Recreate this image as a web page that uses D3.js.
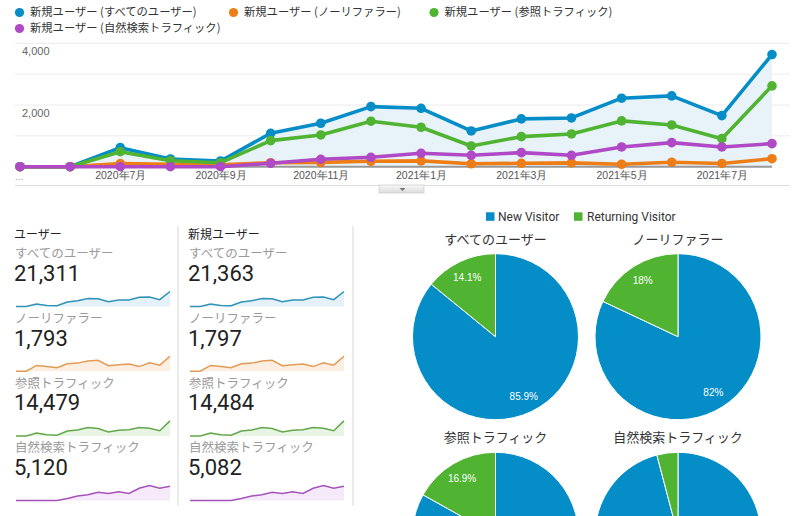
<!DOCTYPE html>
<html><head><meta charset="utf-8">
<script src="https://cdn.jsdelivr.net/npm/d3@7"></script>
<style>
body{margin:0;background:#fff;}
svg{display:block;font-family:"Noto Sans CJK JP","Noto Sans",sans-serif;}
</style>
</head><body><svg id="c" width="800" height="516"></svg>
<script>
// ---------- data ----------
const months = ["2020-05","2020-06","2020-07","2020-08","2020-09","2020-10","2020-11","2020-12",
                "2021-01","2021-02","2021-03","2021-04","2021-05","2021-06","2021-07","2021-08"];
const tickMonths = ["2020-07","2020-09","2020-11","2021-01","2021-03","2021-05","2021-07"];
const tickLabels = ["2020年7月","2020年9月","2020年11月","2021年1月","2021年3月","2021年5月","2021年7月"];
const yTicks = [2000, 4000];

const segmentNames = ["すべてのユーザー","ノーリファラー","参照トラフィック","自然検索トラフィック"];
const legendNames = ["新規ユーザー (すべてのユーザー)","新規ユーザー (ノーリファラー)","新規ユーザー (参照トラフィック)","新規ユーザー (自然検索トラフィック)"];

const newAll      = [0,0,617,250,185,1083,1409,1948,1894,1159,1549,1581,2221,2295,1656,3636];
const newNoRef    = [0,0,100,80,60,130,140,175,190,95,110,125,80,145,105,260];
const newReferral = [0,0,487,195,130,844,1029,1474,1279,672,974,1062,1484,1354,909,2620];
const newOrganic  = [0,0,0,0,0,110,240,305,435,370,455,370,640,780,640,747];

const usersTotals    = [21311, 1793, 14479, 5120];
const newUsersTotals = [21363, 1797, 14484, 5082];

const pieNew       = [85.9, 82, 83.1, 95.9];
const pieReturning = [14.1, 18, 16.9, 4.1];
const pieLegend = ["New Visitor","Returning Visitor"];

// ---------- styles ----------
const colors = ["#058dc7","#ed7e17","#50b432","#af49c5"];
const sparkLine = ["#2f92b8","#e39a55","#62a84a","#a652bd"];
const sparkFill = ["#e4f1f8","#fcefe2","#e9f5e4","#f6e9f9"];
const series = [newAll, newNoRef, newReferral, newOrganic];

const svg = d3.select("#c");

// ---------- legend ----------
const legPos = [[19.5,12.5],[233.5,12.5],[434,12.5],[19.5,28.5]];
legendNames.forEach((n,i)=>{
  const g = svg.append("g").attr("transform",`translate(${legPos[i][0]},${legPos[i][1]})`);
  g.append("circle").attr("r",4.6).attr("fill",colors[i]);
  g.append("text").attr("x",10.5).attr("y",0).attr("dy","0.35em")
    .attr("font-size",11.3).attr("fill","#333").text(n);
});

// ---------- main chart ----------
const x = d3.scalePoint().domain(months).range([20, 772]);
const y = d3.scaleLinear().domain([0,4000]).range([166.7, 43.3]);

// gridlines
svg.append("g").selectAll("line").data([1000,2000,3000,4000]).join("line")
  .attr("x1",15).attr("x2",790).attr("y1",d=>y(d)).attr("y2",d=>y(d))
  .attr("stroke","#ececec").attr("stroke-width",1);

// y axis labels
const yAx = svg.append("g").attr("transform","translate(22,0)")
  .call(d3.axisRight(y).tickValues(yTicks).tickSize(0).tickPadding(0).tickFormat(d3.format(",")));
yAx.select(".domain").remove();
yAx.selectAll("text").attr("font-size",11).attr("fill","#666").attr("dy","1.05em")
  .attr("font-family","Arial, 'Liberation Sans', sans-serif");

// area under blue
svg.append("path").datum(newAll)
  .attr("d", d3.area().x((d,i)=>x(months[i])).y0(y(0)).y1(d=>y(d)))
  .attr("fill","#e7f2f9");

// baseline
svg.append("line").attr("x1",20).attr("x2",772).attr("y1",y(0)).attr("y2",y(0))
  .attr("stroke","#999").attr("stroke-width",2);

// x axis
const xAx = svg.append("g").attr("transform",`translate(0,${y(0)})`)
  .call(d3.axisBottom(x).tickValues(tickMonths).tickSize(0).tickPadding(5)
    .tickFormat(d=>tickLabels[tickMonths.indexOf(d)]));
xAx.select(".domain").remove();
xAx.selectAll("text").attr("font-size",10.5).attr("fill","#555");

svg.append("text").attr("x",15).attr("y",180).attr("font-size",10).attr("fill","#aaa").text("...");

// lines and dots
series.forEach((s,k)=>{
  svg.append("path").datum(s)
    .attr("d", d3.line().x((d,i)=>x(months[i])).y(d=>y(d)))
    .attr("fill","none").attr("stroke",colors[k]).attr("stroke-width",3.6)
    .attr("stroke-linejoin","round");
  svg.append("g").selectAll("circle").data(s).join("circle")
    .attr("cx",(d,i)=>x(months[i])).attr("cy",d=>y(d)).attr("r",4.8).attr("fill",colors[k]);
});

// bottom separator + tab
svg.append("line").attr("x1",15).attr("x2",790).attr("y1",185.5).attr("y2",185.5)
  .attr("stroke","#ddd").attr("stroke-width",1);
const grad = svg.append("defs").append("linearGradient").attr("id","tab").attr("x1",0).attr("x2",0).attr("y1",0).attr("y2",1);
grad.append("stop").attr("offset",0).attr("stop-color","#f7f7f7");
grad.append("stop").attr("offset",1).attr("stop-color","#dcdcdc");
svg.append("rect").attr("x",379).attr("y",185).attr("width",45).attr("height",8)
  .attr("fill","url(#tab)").attr("stroke","#cfcfcf").attr("stroke-width",0.8);
svg.append("path").attr("d","M399.5,188 L405.5,188 L402.5,191 Z").attr("fill","#777");

// ---------- scorecards ----------
svg.append("g").selectAll("line").data([178,353]).join("line")
  .attr("x1",d=>d).attr("x2",d=>d).attr("y1",226).attr("y2",506)
  .attr("stroke","#dedede").attr("stroke-width",1.2);

const columns = [{x0:14, title:"ユーザー", totals:usersTotals},
                 {x0:188, title:"新規ユーザー", totals:newUsersTotals}];
const sx = d3.scaleLinear().domain([0, months.length-1]);
columns.forEach(col=>{
  svg.append("text").attr("x",col.x0).attr("y",235).attr("dy","0.35em")
    .attr("font-size",12).attr("fill","#222").text(col.title);
  segmentNames.forEach((name,i)=>{
    const oy = i*64.7;
    svg.append("text").attr("x",col.x0+1).attr("y",254+oy).attr("dy","0.35em")
      .attr("font-size",12.5).attr("fill","#9a9a9a").text(name);
    svg.append("text").attr("x",col.x0).attr("y",273+oy).attr("dy","0.36em")
      .attr("font-size",22).attr("fill","#222").attr("font-family","Roboto, Arial, sans-serif")
      .text(d3.format(",")(col.totals[i]));
    const xs = sx.copy().range([col.x0+2, col.x0+156]);
    const ys = d3.scaleLinear().domain([0, d3.max(series[i])]).range([306.5+oy, 291.5+oy]);
    svg.append("path").datum(series[i])
      .attr("d", d3.area().x((d,j)=>xs(j)).y0(306.5+oy).y1(d=>ys(d)))
      .attr("fill",sparkFill[i]);
    svg.append("path").datum(series[i])
      .attr("d", d3.line().x((d,j)=>xs(j)).y(d=>ys(d)))
      .attr("fill","none").attr("stroke",sparkLine[i]).attr("stroke-width",1.5);
  });
});

// ---------- pies ----------
const pieColors = ["#058dc7","#50b432"];
const legG = svg.append("g");
[[486,498],[574,587]].forEach((p,i)=>{
  legG.append("rect").attr("x",p[0]).attr("y",212.3).attr("width",8.5).attr("height",8.5).attr("fill",pieColors[i]);
  legG.append("text").attr("x",p[1]).attr("y",216.6).attr("dy","0.35em").attr("font-size",12)
    .attr("font-family","Roboto, Arial, sans-serif").attr("fill","#333").text(pieLegend[i]);
});

const pieCenters = [[495.5,336.7],[678,336.7],[495.5,535.3],[678,535.3]];
const titleY = [239, 239, 437, 437];
const pie = d3.pie().sort(null).value(d=>d);
const arc = d3.arc().innerRadius(0).outerRadius(83);
const labelArc = d3.arc().innerRadius(66).outerRadius(66);
segmentNames.forEach((name,i)=>{
  const [cx,cy] = pieCenters[i];
  svg.append("text").attr("x",cx).attr("y",titleY[i]).attr("dy","0.35em").attr("text-anchor","middle")
    .attr("font-size",13).attr("fill","#333").text(name);
  const g = svg.append("g").attr("transform",`translate(${cx},${cy})`);
  const vals = [pieNew[i], pieReturning[i]];
  const arcs = pie(vals);
  g.selectAll("path").data(arcs).join("path").attr("d",arc)
    .attr("fill",(d,j)=>pieColors[j]).attr("stroke","#fff").attr("stroke-width",1);
  // labels only for slices >= 5% whose label falls inside the visible page
  const shown = arcs.filter(d=>d.data>=5 && cy + labelArc.centroid(d)[1] < 505);
  g.selectAll("text").data(shown).join("text")
    .attr("transform",d=>`translate(${labelArc.centroid(d)})`)
    .attr("text-anchor","middle").attr("dy","0.35em")
    .attr("font-size",10).attr("fill","#fff").attr("font-family","Arial, sans-serif")
    .text(d=>d.data+"%");
});
</script>
</body></html>
